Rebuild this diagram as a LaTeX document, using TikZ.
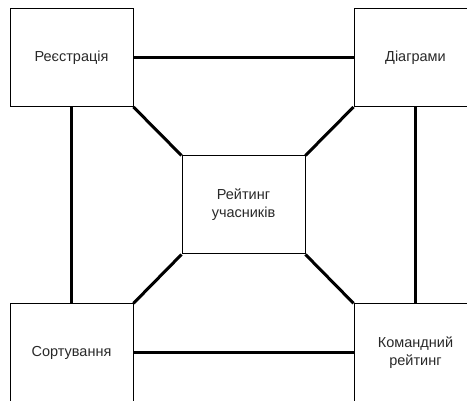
\documentclass[tikz,border=0pt]{standalone}
\usepackage{fontspec}
\setmainfont{Liberation Sans}
\definecolor{txt}{RGB}{40,40,40}
\begin{document}
\begin{tikzpicture}[x=1pt,y=-1pt,
  box/.style={draw=black,line width=1pt,minimum width=123pt,minimum height=98pt,inner sep=0pt,align=center,text=txt,font=\fontsize{14.5}{18}\selectfont},
  link/.style={draw=black,line width=3pt}]
\clip (0,0) rectangle (467,401);
\node[box] (reg) at (71.5,57.5) {Реєстрація};
\node[box] (diag) at (415.5,57.5) {Діаграми};
\node[box] (sort) at (71.5,352.8) {Сортування};
\node[box] (team) at (415.5,352.8) {Командний\\рейтинг};
\node[box] (rate) at (243.5,205) {Рейтинг\\учасників};
\draw[link] (reg.east) -- (diag.west);
\draw[link] (sort.east) -- (team.west);
\draw[link] (reg.south) -- (sort.north);
\draw[link] (diag.south) -- (team.north);
\draw[link] (reg.south east) -- (rate.north west);
\draw[link] (diag.south west) -- (rate.north east);
\draw[link] (sort.north east) -- (rate.south west);
\draw[link] (team.north west) -- (rate.south east);
\end{tikzpicture}
\end{document}
